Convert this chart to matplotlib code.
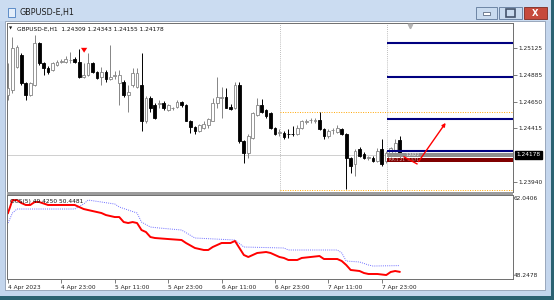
import numpy as np
import matplotlib
matplotlib.use("Agg")
import matplotlib.pyplot as plt
from matplotlib.patches import Rectangle

W, H = 554, 300

# GBPUSD-E H1 candles (one per hour, oldest first)
opens = [1.24706, 1.24750, 1.24956, 1.25063, 1.24813, 1.24706, 1.24795, 1.25170, 1.24991, 1.24947,
         1.24929, 1.24974, 1.25005, 1.25000, 1.25018, 1.25027, 1.25000, 1.24866, 1.24884, 1.24991,
         1.24911, 1.24866, 1.24911, 1.24848, 1.24880, 1.24813, 1.24822, 1.24706, 1.24795, 1.24777,
         1.24795, 1.24482, 1.24679, 1.24616, 1.24630, 1.24634, 1.24572, 1.24590, 1.24607, 1.24643,
         1.24616, 1.24482, 1.24429, 1.24393, 1.24420, 1.24447, 1.24482, 1.24634, 1.24679, 1.24688,
         1.24607, 1.24590, 1.24795, 1.24304, 1.24197, 1.24331, 1.24536, 1.24616, 1.24572, 1.24545,
         1.24420, 1.24375, 1.24375, 1.24366, 1.24366, 1.24366, 1.24420, 1.24469, 1.24487, 1.24474,
         1.24491, 1.24411, 1.24348, 1.24398, 1.24384, 1.24411, 1.24366, 1.24152, 1.24099, 1.24232,
         1.24188, 1.24152, 1.24152, 1.24125, 1.24232, 1.24125, 1.24170, 1.24215, 1.24309]
highs = [1.24991, 1.25224, 1.25152, 1.25081, 1.24822, 1.24822, 1.25241, 1.25179, 1.25000, 1.24965,
         1.25000, 1.25018, 1.25027, 1.25054, 1.25090, 1.25045, 1.25116, 1.24991, 1.25081, 1.25000,
         1.24920, 1.24956, 1.24929, 1.25152, 1.24920, 1.24929, 1.24840, 1.24795, 1.24947, 1.24947,
         1.25081, 1.24697, 1.24697, 1.24634, 1.24661, 1.24652, 1.24625, 1.24607, 1.24661, 1.24652,
         1.24625, 1.24491, 1.24438, 1.24456, 1.24474, 1.24509, 1.24679, 1.24866, 1.24777, 1.24768,
         1.24625, 1.24822, 1.24822, 1.24313, 1.24366, 1.24554, 1.24679, 1.24670, 1.24581, 1.24554,
         1.24429, 1.24411, 1.24393, 1.24411, 1.24438, 1.24447, 1.24491, 1.24500, 1.24509, 1.24509,
         1.24554, 1.24420, 1.24411, 1.24420, 1.24447, 1.24420, 1.24375, 1.24161, 1.24232, 1.24250,
         1.24206, 1.24170, 1.24170, 1.24241, 1.24322, 1.24215, 1.24250, 1.24322, 1.24343]
lows = [1.24661, 1.24724, 1.24947, 1.24795, 1.24661, 1.24697, 1.24786, 1.24974, 1.24884, 1.24893,
        1.24920, 1.24965, 1.24991, 1.24991, 1.24991, 1.24991, 1.24857, 1.24857, 1.24875, 1.24902,
        1.24848, 1.24795, 1.24822, 1.24840, 1.24848, 1.24616, 1.24688, 1.24554, 1.24777, 1.24768,
        1.24393, 1.24465, 1.24554, 1.24500, 1.24590, 1.24572, 1.24563, 1.24572, 1.24598, 1.24607,
        1.24474, 1.24375, 1.24366, 1.24384, 1.24411, 1.24420, 1.24474, 1.24598, 1.24509, 1.24590,
        1.24572, 1.24581, 1.24286, 1.24107, 1.24152, 1.24322, 1.24527, 1.24545, 1.24509, 1.24411,
        1.24357, 1.24348, 1.24322, 1.24331, 1.24348, 1.24357, 1.24411, 1.24456, 1.24465, 1.24465,
        1.24402, 1.24322, 1.24331, 1.24366, 1.24375, 1.24357, 1.23875, 1.24018, 1.23991, 1.24161,
        1.24143, 1.24134, 1.24116, 1.24116, 1.24081, 1.24107, 1.24161, 1.24206, 1.24155]
closes = [1.24768, 1.25125, 1.25134, 1.24813, 1.24706, 1.24813, 1.25170, 1.24991, 1.24947, 1.24911,
          1.24991, 1.25000, 1.25014, 1.25027, 1.25023, 1.25000, 1.24866, 1.24884, 1.24991, 1.24911,
          1.24857, 1.24911, 1.24848, 1.24866, 1.24884, 1.24884, 1.24706, 1.24732, 1.24902, 1.24902,
          1.24482, 1.24679, 1.24590, 1.24509, 1.24634, 1.24590, 1.24616, 1.24594, 1.24643, 1.24616,
          1.24482, 1.24429, 1.24393, 1.24447, 1.24456, 1.24500, 1.24634, 1.24688, 1.24688, 1.24598,
          1.24581, 1.24795, 1.24304, 1.24197, 1.24348, 1.24545, 1.24616, 1.24554, 1.24527, 1.24420,
          1.24366, 1.24380, 1.24340, 1.24362, 1.24362, 1.24420, 1.24474, 1.24474, 1.24491, 1.24491,
          1.24411, 1.24348, 1.24393, 1.24402, 1.24420, 1.24366, 1.24152, 1.24081, 1.24215, 1.24170,
          1.24152, 1.24157, 1.24125, 1.24215, 1.24099, 1.24197, 1.24241, 1.24286, 1.24178]

# oscillator sub window, line vertices (bar index, value)
osc_main_bar = [0, 1, 2, 3, 4, 5, 6, 7, 9, 11, 15, 17, 18, 21, 22, 24, 25, 26, 27, 28, 29, 30,
                31, 32, 33, 36, 39, 40, 42, 44, 45, 46, 48, 50, 51, 52, 53, 54, 56, 58, 59, 61,
                62, 63, 65, 66, 68, 70, 71, 74, 75, 76, 77, 79, 80, 81, 83, 85, 86, 87, 88]
osc_main_val = [59.08, 61.21, 61.21, 60.72, 60.40, 60.40, 60.89, 60.89, 60.40, 60.40, 60.40, 59.74,
                59.57, 59.08, 58.75, 58.42, 58.42, 57.60, 57.44, 57.60, 57.44, 56.29, 55.96, 55.14,
                54.98, 54.81, 54.65, 54.16, 53.34, 53.01, 53.01, 53.50, 54.16, 54.16, 54.49, 53.34,
                52.19, 51.86, 52.52, 52.68, 52.52, 51.86, 51.70, 51.37, 51.37, 51.70, 51.86, 52.02,
                51.53, 51.53, 51.20, 50.55, 49.73, 49.56, 49.23, 49.07, 49.07, 48.90, 49.40, 49.56,
                49.425]
osc_sig_bar = [0, 1, 2, 15, 17, 18, 24, 25, 29, 30, 32, 34, 39, 42, 51, 53, 62, 63, 74, 75, 76,
               79, 81, 82, 88]
osc_sig_val = [57.44, 59.08, 59.74, 59.74, 60.56, 61.21, 60.56, 60.07, 59.08, 57.60, 56.78, 56.62,
               56.29, 54.98, 54.65, 53.50, 53.34, 53.01, 53.01, 52.52, 51.20, 51.04, 50.55, 50.38,
               50.4481]
osc_max, osc_min = 62.0406, 48.2478

price_ticks = [1.25125, 1.24885, 1.24650, 1.24415, 1.23940]
last_price = 1.24178

time_ticks = [0, 12, 24, 36, 48, 60, 72, 84]
time_labels = ["4 Apr 2023", "4 Apr 23:00", "5 Apr 11:00", "5 Apr 23:00",
               "6 Apr 11:00", "6 Apr 23:00", "7 Apr 11:00", "7 Apr 23:00"]

# chart objects
navy_levels = [1.25170, 1.24866, 1.24495, 1.24214]
orange_levels = [1.24554, 1.23866]
vline_bars = [61.1, 85.2]
arrow_bars = [89.0, 91.9, 98.7]
arrow_prices = [1.24160, 1.24098, 1.24482]

XLIM = (-0.225, 113.48)
YLIM = (1.238482, 1.253482)
FS = 4.2

fig = plt.figure(figsize=(W / 100, H / 100), dpi=100, facecolor="#c4d6ed")


def px_rect(x0, y0, x1, y1, **kw):
    r = Rectangle((x0 / W, 1 - y1 / H), (x1 - x0) / W, (y1 - y0) / H,
                  transform=fig.transFigure, **kw)
    fig.add_artist(r)
    return r


def px_axes(x0, y0, x1, y1):
    return fig.add_axes([x0 / W, 1 - y1 / H, (x1 - x0) / W, (y1 - y0) / H])


# window chrome
px_rect(0, 0, 554, 21, facecolor="#cbdcf1", lw=0, zorder=-6)
px_rect(0, 296, 554, 300, facecolor="#2b6272", lw=0, zorder=-6)
px_rect(551, 0, 554, 300, facecolor="#2b6272", lw=0, zorder=-6)
px_rect(5, 21, 545, 290, facecolor="white", edgecolor="#8e9db2", lw=0.6, zorder=-5)
px_rect(8, 8, 15, 17, facecolor="#e4eefa", edgecolor="#4b7fc1", lw=0.6)
fig.text(20 / W, 1 - 13 / H, "GBPUSD-E,H1", fontsize=5.8, color="#1e1e1e", va="center")

for x0, x1 in [(476, 497), (499, 522)]:
    px_rect(x0, 7, x1, 19, facecolor="#c9dbef", edgecolor="#5f7899", lw=0.6)
px_rect(483, 12, 490, 15, facecolor="white", edgecolor="#44546c", lw=0.5)
px_rect(506, 9, 515, 17, facecolor="none", edgecolor="#44546c", lw=1.2)
px_rect(524, 7, 547, 19, facecolor="#c64a3c", edgecolor="#7d2b22", lw=0.6)
fig.text(535.5 / W, 1 - 13 / H, "X", fontsize=6, color="white", fontweight="bold",
         ha="center", va="center")

# main price chart
ax = px_axes(7, 23, 513, 192)
ax.set_xlim(*XLIM)
ax.set_ylim(*YLIM)

o = np.array(opens)
h = np.array(highs)
l = np.array(lows)
c = np.array(closes)
idx = np.arange(len(o))
up = c >= o
edge = np.where(up, "#858585", "black")
face = np.where(up, "white", "black")

ax.axhline(last_price, color="#c8c8c8", lw=0.6, zorder=1)
ax.vlines(vline_bars, YLIM[0], YLIM[1], colors="#a8a8a8", linestyles=(0, (1, 1.5)), lw=0.6, zorder=1)
ax.hlines(orange_levels, vline_bars[0], XLIM[1], colors="#ffa500", linestyles=(0, (1, 1.5)), lw=0.7, zorder=1)

ax.vlines(idx, l, h, colors=edge, lw=0.7, zorder=2)
ax.bar(idx, np.maximum(np.abs(c - o), 0.000012), bottom=np.minimum(o, c), width=0.62,
       color=face, edgecolor=edge, linewidth=0.6, zorder=3)

ax.hlines(navy_levels, vline_bars[1], XLIM[1], colors="#000080", lw=1.5, zorder=4)
ax.fill_between([vline_bars[1], XLIM[1]], 1.24158, 1.24196, color="#8f8f8f", lw=0, zorder=4)
ax.fill_between([vline_bars[1], XLIM[1]], 1.24116, 1.24152, color="#800000", lw=0, zorder=4)
ax.text(89.3, 1.24178, "1.2422", fontsize=3, color="white", va="center", zorder=5)
ax.text(85.6, 1.24134, "RR:1.21  3.571", fontsize=3, color="#d9b3b3", va="center", zorder=5)

ax.plot(arrow_bars[:2], arrow_prices[:2], color="red", lw=1.0, zorder=6)
ax.annotate("", xy=(arrow_bars[2], arrow_prices[2]), xytext=(arrow_bars[1], arrow_prices[1]),
            arrowprops=dict(arrowstyle="-|>", color="red", lw=1.0, mutation_scale=5), zorder=6)
ax.annotate("", xy=(17.1, 1.25060), xytext=(17.1, 1.25140),
            arrowprops=dict(arrowstyle="simple,head_width=0.9,head_length=0.7,tail_width=0.35",
                            color="red", lw=0, mutation_scale=5), zorder=6)
ax.plot([90.3], [1.25326], marker="v", color="#b4b4b4", ms=3.2, zorder=6, clip_on=False)

ax.yaxis.tick_right()
ax.set_yticks(price_ticks)
ax.set_yticklabels(["%.5f" % p for p in price_ticks])
ax.tick_params(axis="y", length=3, width=0.6, color="#666666", labelsize=FS,
               labelcolor="#222222", pad=1)
ax.tick_params(axis="x", bottom=False, labelbottom=False)
ax.annotate("%.5f" % last_price, xy=(1.0, last_price), xycoords=("axes fraction", "data"),
            xytext=(2.5, 0), textcoords="offset points", fontsize=FS, color="white", va="center",
            bbox=dict(boxstyle="square,pad=0.25", fc="black", ec="black"))

# header line: small drop-down triangle, then symbol and OHLC
fig.text(11 / W, 1 - 29 / H, "\u25bc", fontsize=3, color="#111111", va="center", ha="center")
fig.text(17 / W, 1 - 29 / H, "GBPUSD-E,H1  1.24309 1.24343 1.24155 1.24178", fontsize=FS,
         color="#111111", va="center")

# splitter
px_rect(7, 192, 513, 195, facecolor="#9c9c9c", lw=0)

# oscillator sub window
ax2 = px_axes(7, 195, 513, 279)
ax2.set_xlim(*XLIM)
ax2.set_ylim(osc_min, osc_max)
ax2.plot(osc_sig_bar, osc_sig_val, color="#6f6fff", lw=0.7, linestyle=(0, (1, 1.2)))
ax2.plot(osc_main_bar, osc_main_val, color="red", lw=1.4, solid_joinstyle="round")
ax2.text(3 / 506, 1 - 7 / 84, "OCS(5) 49.4250 50.4481", transform=ax2.transAxes, fontsize=FS,
         color="#111111", va="center")
ax2.text(1.002, 1 - 1.5 / 84, "%.4f" % osc_max, transform=ax2.transAxes, fontsize=FS,
         color="#222222", va="top")
ax2.text(1.002, 1 / 84, "%.4f" % osc_min, transform=ax2.transAxes, fontsize=FS,
         color="#222222", va="bottom")
ax2.set_yticks([])
ax2.set_xticks(time_ticks)
ax2.set_xticklabels(time_labels)
for lbl in ax2.get_xticklabels():
    lbl.set_horizontalalignment("left")
ax2.tick_params(axis="x", length=3, width=0.6, color="#666666", labelsize=FS,
                labelcolor="#222222", pad=1.5)

for a in (ax, ax2):
    for s in a.spines.values():
        s.set_color("#6e6e6e")
        s.set_linewidth(0.7)

fig.savefig("out.png", dpi=100, facecolor=fig.get_facecolor())
